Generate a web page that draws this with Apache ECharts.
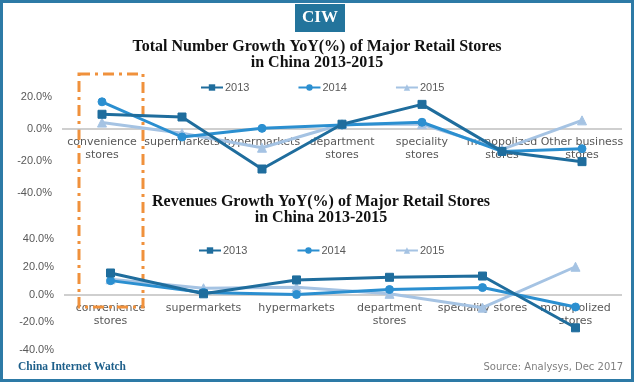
<!DOCTYPE html>
<html>
<head>
<meta charset="utf-8">
<script src="https://cdn.jsdelivr.net/npm/echarts@6/dist/echarts.min.js"></script>
<style>html,body{margin:0;padding:0;background:#fff;}#c{width:634px;height:382px;}</style>
</head>
<body>
<div id="c"></div>
<script>
const seriesNames = ['2013', '2014', '2015'];
const cats1 = ['convenience\nstores', 'supermarkets', 'hypermarkets', 'department\nstores', 'speciality\nstores', 'monopolized\nstores', 'Other business\nstores'];
const count2013 = [9.2, 7.5, -25, 3, 15.4, -14, -20.4];
const count2014 = [17, -5, 0.4, 2.5, 4.2, -14, -12.3];
const count2015 = [4, -2.7, -11.7, 3, 3, -12.7, 5.4];
const cats2 = ['convenience\nstores', 'supermarkets', 'hypermarkets', 'department\nstores', 'speciality stores', 'monopolized\nstores'];
const rev2013 = [15.5, 0.5, 10.5, 12.4, 13.3, -24];
const rev2014 = [10, 1.5, 0, 3.6, 5, -9];
const rev2015 = [11, 4.5, 5.2, 0.5, -9.5, 20];
const ticks1 = [-40, -20, 0, 20];
const ticks2 = [-40, -20, 0, 20, 40];

const colors = ['#1f6d9d', '#2b8fd0', '#a5c3e3'];
const symbols = ['rect', 'circle', 'triangle'];
const symSizes = [8, 8, 9];
const labelFont = 'DejaVu Sans';
const numFont = 'Liberation Sans';
const gray = '#595959';

function mkSeries(data, idx, axisIdx) {
  const s = {
    name: seriesNames[idx], type: 'line', data: data,
    xAxisIndex: axisIdx, yAxisIndex: axisIdx,
    symbol: symbols[idx], symbolSize: symSizes[idx],
    lineStyle: {color: colors[idx], width: 3},
    itemStyle: {color: colors[idx], borderColor: colors[idx]},
    z: 5 - idx,
    animation: false
  };
  if (idx === 0) {
    s.markLine = {
      silent: true, symbol: ['none', 'none'], label: {show: false},
      lineStyle: {color: '#bfbfbf', width: 1.5, type: 'solid'},
      data: [{yAxis: 0}], animation: false, z: 1
    };
  }
  return s;
}

function mkX(cats, gi, margin) {
  return {
    type: 'category', gridIndex: gi, data: cats, boundaryGap: true,
    axisLine: {show: false, onZero: false},
    axisTick: {show: false},
    axisLabel: {interval: 0, color: gray, fontFamily: labelFont, fontSize: 11, lineHeight: 13, margin: margin}
  };
}
function mkY(ticks, gi) {
  return {
    type: 'value', gridIndex: gi, min: ticks[0], max: ticks[ticks.length - 1], interval: 20,
    axisLine: {show: false}, axisTick: {show: false}, splitLine: {show: false},
    axisLabel: {color: gray, fontFamily: numFont, fontSize: 11, margin: 10, formatter: v => v.toFixed(1) + '%'}
  };
}

const chart = echarts.init(document.getElementById('c'));
chart.setOption({
  animation: false,
  title: [
    {text: 'Total Number Growth YoY(%) of Major Retail Stores\nin China 2013-2015', left: 317, top: 39, textAlign: 'center', padding: 0,
     textStyle: {fontFamily: 'Liberation Serif', fontWeight: 'bold', fontSize: 16, lineHeight: 16, color: '#111'}},
    {text: 'Revenues Growth YoY(%) of Major Retail Stores\nin China 2013-2015', left: 321, top: 193.5, textAlign: 'center', padding: 0,
     textStyle: {fontFamily: 'Liberation Serif', fontWeight: 'bold', fontSize: 16, lineHeight: 16.5, color: '#111'}}
  ],
  legend: [
    {data: seriesNames, left: 200, top: 82, padding: 0, itemWidth: 22, itemHeight: 8, itemGap: 48,
     textStyle: {color: gray, fontFamily: numFont, fontSize: 11, padding: [0, 0, 0, -3]}},
    {data: seriesNames, left: 198, top: 245, padding: 0, itemWidth: 22, itemHeight: 8, itemGap: 49,
     textStyle: {color: gray, fontFamily: numFont, fontSize: 11, padding: [0, 0, 0, -3]}}
  ],
  grid: [
    {left: 62, right: 12, top: 97, height: 96},
    {left: 64, right: 12, top: 239, height: 111}
  ],
  xAxis: [mkX(cats1, 0, -57), mkX(cats2, 1, -48)],
  yAxis: [mkY(ticks1, 0), mkY(ticks2, 1)],
  series: [
    mkSeries(count2013, 0, 0), mkSeries(count2014, 1, 0), mkSeries(count2015, 2, 0),
    mkSeries(rev2013, 0, 1), mkSeries(rev2014, 1, 1), mkSeries(rev2015, 2, 1)
  ],
  graphic: [
    {type: 'rect', shape: {x: 1.5, y: 1.5, width: 631, height: 379}, style: {fill: 'none', stroke: '#2d7aa6', lineWidth: 3}, z: 10},
    {type: 'rect', shape: {x: 295, y: 4, width: 50, height: 28}, style: {fill: '#23749c'}, z: 10},
    {type: 'text', x: 320, y: 18, style: {text: 'CIW', fill: '#fff', font: 'bold 17px "Liberation Serif"', textAlign: 'center', textVerticalAlign: 'middle'}, z: 11},
    {type: 'rect', shape: {x: 79, y: 74, width: 64, height: 233}, style: {fill: 'none', stroke: '#f0913c', lineWidth: 3, lineDash: [11, 5, 3, 5]}, z: 1},
    {type: 'text', x: 18, y: 367, style: {text: 'China Internet Watch', fill: '#1d5f8a', font: 'bold 11.5px "Liberation Serif"', textVerticalAlign: 'middle'}, z: 11},
    {type: 'text', x: 623, y: 367, style: {text: 'Source: Analysys, Dec 2017', fill: '#7f7f7f', font: '10px "DejaVu Sans"', textAlign: 'right', textVerticalAlign: 'middle'}, z: 11}
  ]
});
</script>
</body>
</html>
